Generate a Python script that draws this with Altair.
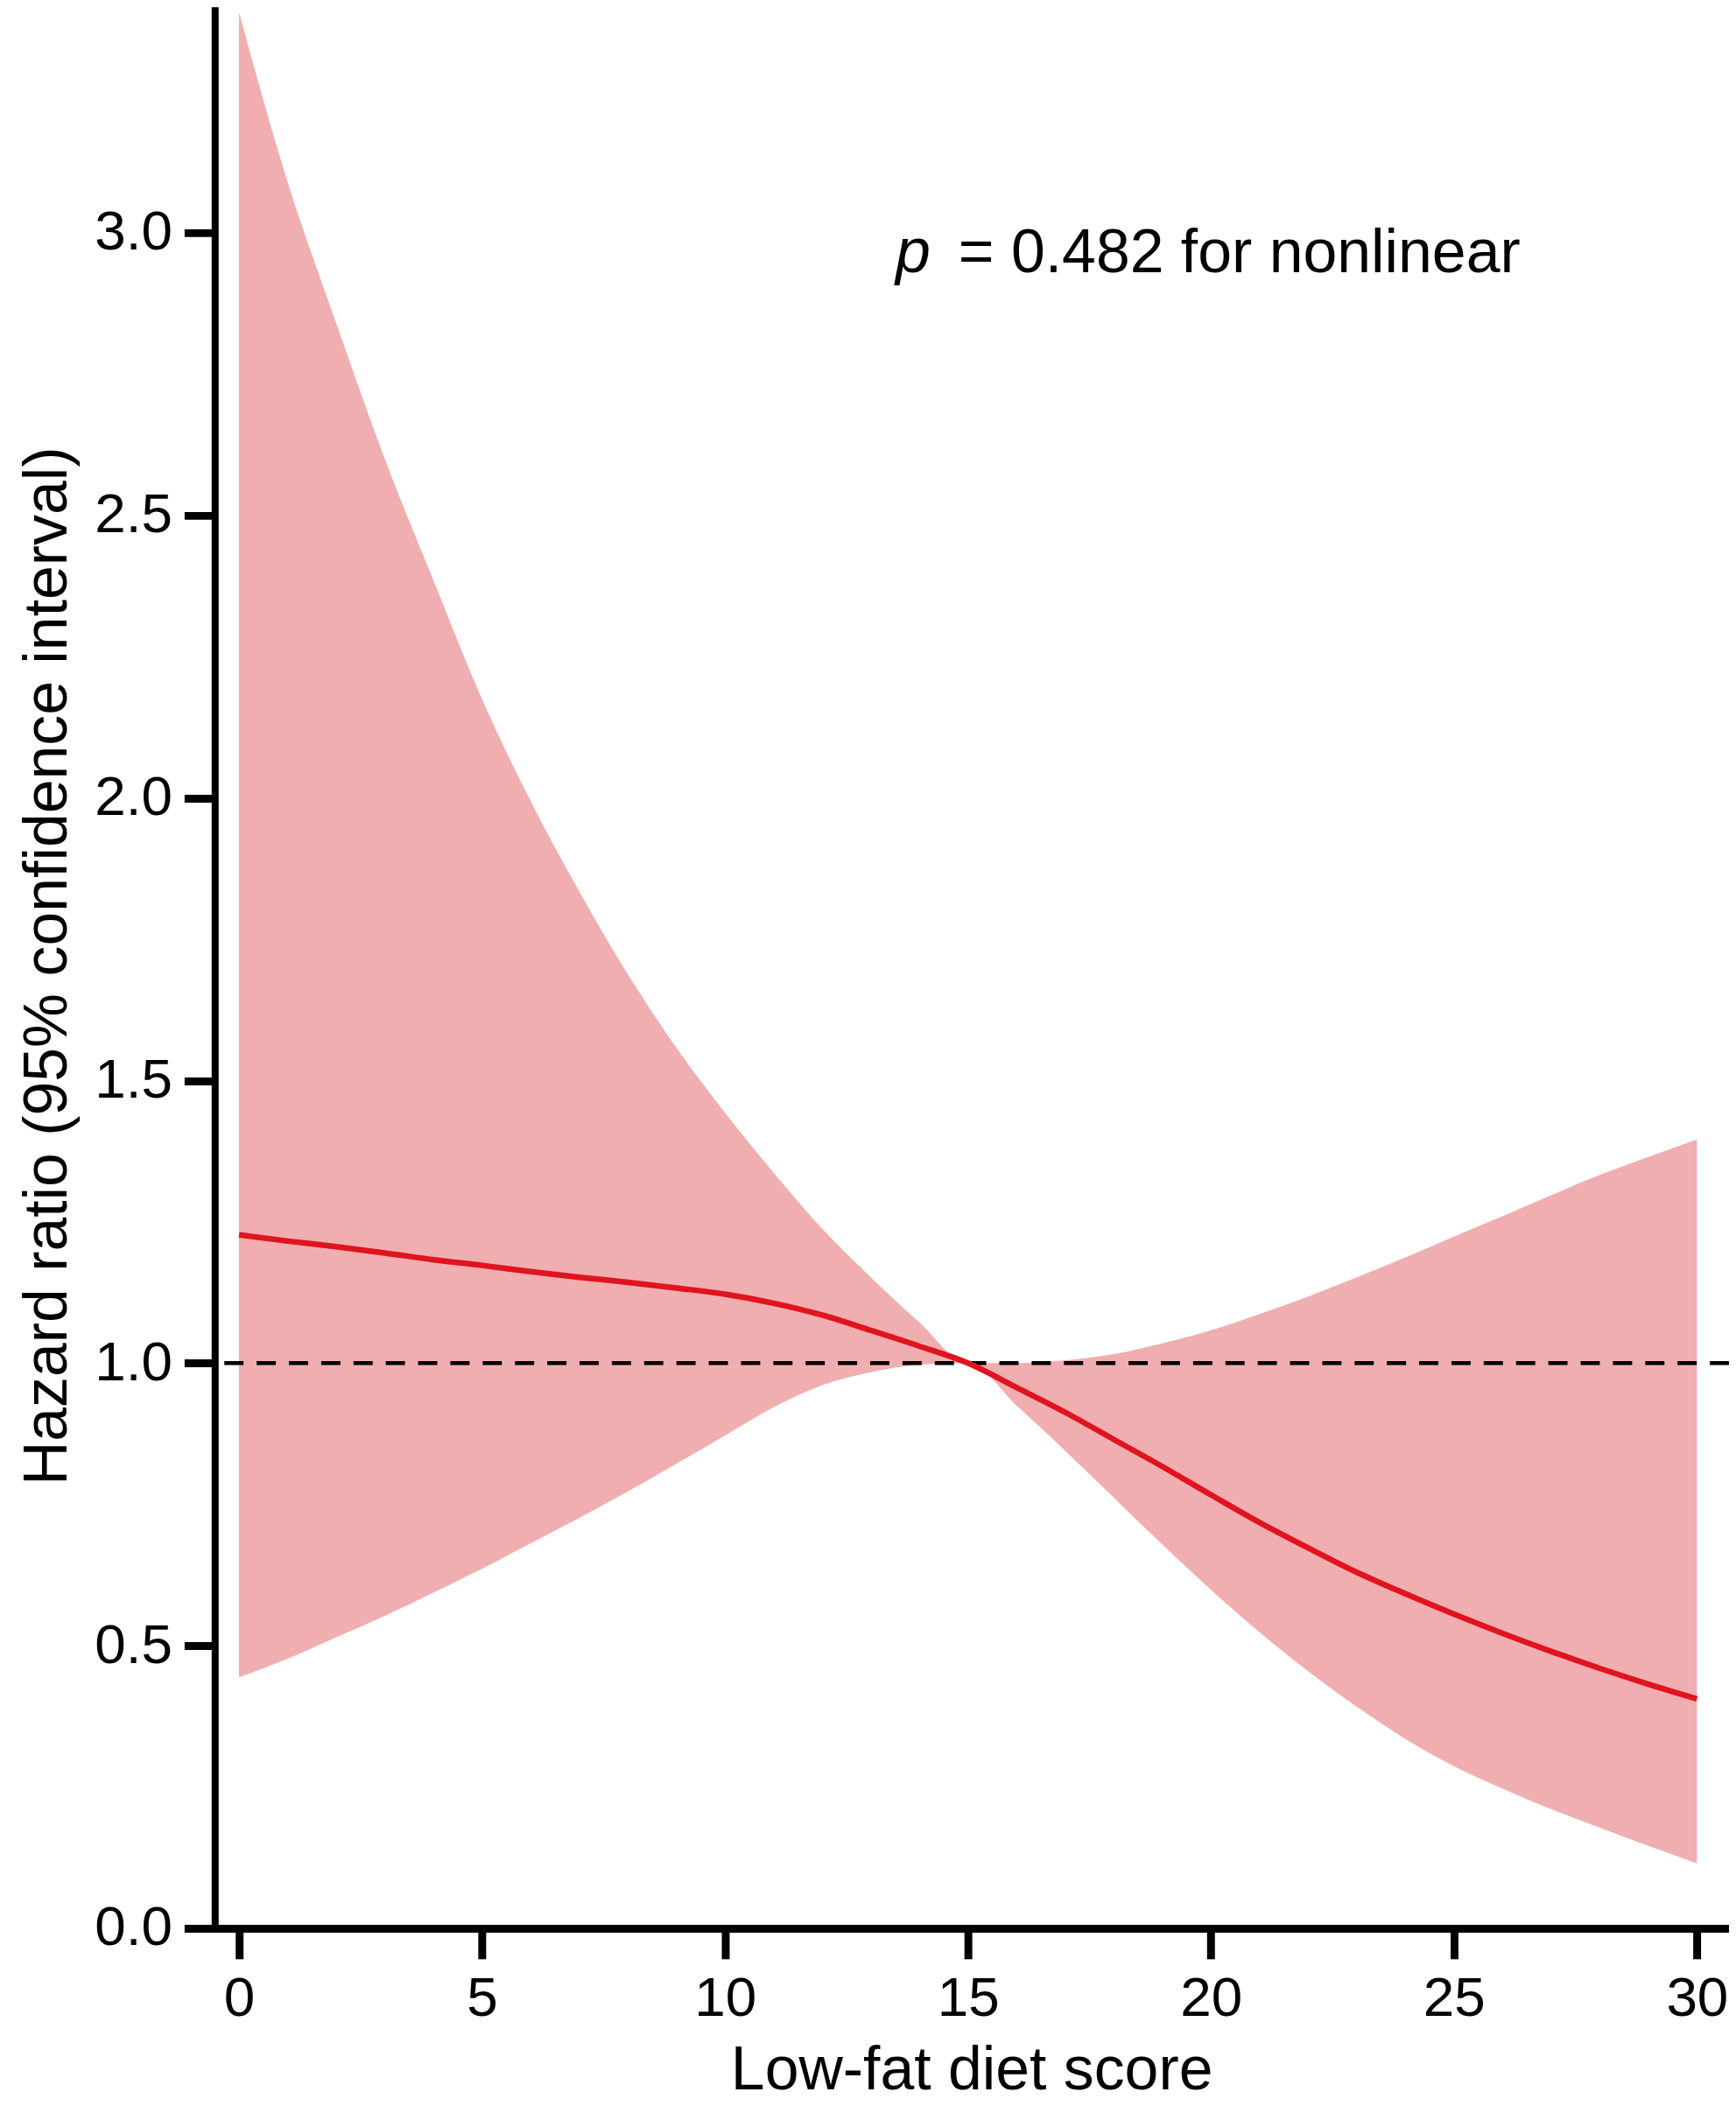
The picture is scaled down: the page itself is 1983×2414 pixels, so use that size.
import altair as alt
import pandas as pd

# ---- data ----
score = list(range(31))
hr = [1.227, 1.216, 1.206, 1.195, 1.183, 1.173, 1.162, 1.152, 1.143, 1.133,
      1.122, 1.106, 1.085, 1.058, 1.030, 1.000, 0.957, 0.913, 0.865, 0.817,
      0.767, 0.718, 0.673, 0.630, 0.592, 0.556, 0.522, 0.490, 0.460, 0.432, 0.406]
upper = [3.39, 3.09, 2.84, 2.60, 2.385, 2.175, 1.995, 1.835, 1.688, 1.558,
         1.443, 1.337, 1.238, 1.152, 1.072, 1.0, 1.0, 1.005, 1.016, 1.035,
         1.058, 1.087, 1.118, 1.152, 1.187, 1.224, 1.26, 1.297, 1.333, 1.365, 1.396]
lower = [0.444, 0.477, 0.515, 0.553, 0.594, 0.636, 0.681, 0.726, 0.773, 0.822,
         0.872, 0.922, 0.961, 0.984, 0.997, 1.0, 0.925, 0.845, 0.762, 0.679,
         0.599, 0.524, 0.455, 0.392, 0.335, 0.287, 0.247, 0.211, 0.178, 0.146, 0.115]
x_ticks = [0, 5, 10, 15, 20, 25, 30]
y_ticks = [0.0, 0.5, 1.0, 1.5, 2.0, 2.5, 3.0]
reference_hr = [1.0]
note_pos = [13.51, 2.931]
note_p = "p"
note_rest = "= 0.482 for nonlinear"

df = pd.DataFrame({"score": score, "hr": hr, "lower": lower, "upper": upper})
ref_df = pd.DataFrame({"ref": reference_hr})
note_df = pd.DataFrame({"x": [note_pos[0]], "y": [note_pos[1]],
                        "p": [note_p], "rest": [note_rest]})

FONT = "Liberation Sans, Arial, sans-serif"

xs = alt.Scale(domain=[-0.5, 30.66], nice=False, zero=False)
ys = alt.Scale(domain=[0, 3.394], nice=False, zero=False)

x_axis = alt.Axis(
    values=x_ticks, format="d", title="Low-fat diet score",
    tickSize=35, tickWidth=9, domainWidth=9, domainCap="square",
    labelFontSize=64, labelPadding=14, labelFont=FONT, labelColor="black",
    labelFlush=False, labelOverlap=False, labelBound=False,
    titleFont=FONT, titleFontSize=70, titleFontWeight="normal", titleColor="black",
    titleBaseline="alphabetic", titleX=867, titleY=184,
    domainColor="black", tickColor="black", grid=False,
)
y_axis = alt.Axis(
    values=y_ticks, format=".1f", title="Hazard ratio (95% confidence interval)",
    tickSize=35, tickWidth=9, domainWidth=8, domainCap="square",
    labelFontSize=64, labelPadding=14, labelFont=FONT, labelColor="black",
    labelFlush=False, labelOverlap=False, labelBound=False,
    titleFont=FONT, titleFontSize=70, titleFontWeight="normal", titleColor="black",
    titleBaseline="alphabetic", titleX=-170, titleY=1095,
    domainColor="black", tickColor="black", grid=False,
)

band = alt.Chart(df).mark_area(color="#F0AEB0", opacity=1, interpolate="monotone").encode(
    x=alt.X("score:Q", scale=xs, axis=x_axis),
    y=alt.Y("lower:Q", scale=ys, axis=y_axis),
    y2="upper:Q",
)

rule = alt.Chart(ref_df).mark_rule(color="black", strokeWidth=4.5, strokeDash=[22, 15]).encode(
    y=alt.Y("ref:Q", scale=ys, axis=y_axis),
)

line = alt.Chart(df).mark_line(color="#E0141E", strokeWidth=6.5, interpolate="monotone").encode(
    x=alt.X("score:Q", scale=xs, axis=x_axis),
    y=alt.Y("hr:Q", scale=ys, axis=y_axis),
)

txt_p = alt.Chart(note_df).mark_text(
    font=FONT, fontSize=72, fontStyle="italic", align="left", baseline="alphabetic", color="black"
).encode(
    x=alt.X("x:Q", scale=xs, axis=x_axis),
    y=alt.Y("y:Q", scale=ys, axis=y_axis),
    text="p:N",
)
txt_rest = alt.Chart(note_df).mark_text(
    font=FONT, fontSize=70, align="left", baseline="alphabetic", color="black", dx=72
).encode(
    x=alt.X("x:Q", scale=xs, axis=x_axis),
    y=alt.Y("y:Q", scale=ys, axis=y_axis),
    text="rest:N",
)

chart = alt.layer(band, rule, line, txt_p, txt_rest).properties(
    width=1735, height=2198,
    autosize=alt.AutoSizeParams(type="none"),
    padding={"left": 238, "top": 0, "right": 0, "bottom": 198},
    background="white",
).configure_view(stroke=None)

chart.save("out.html", embed_options={"renderer": "svg", "actions": False})
